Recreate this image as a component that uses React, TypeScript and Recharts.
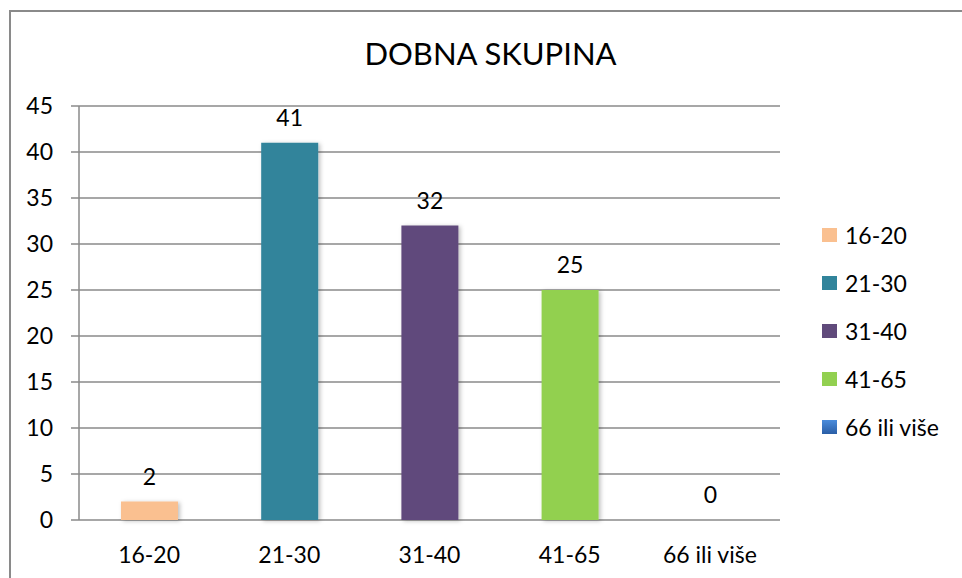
import { BarChart, Bar, XAxis, YAxis, CartesianGrid, Cell, LabelList } from 'recharts';

const categories = ['16-20', '21-30', '31-40', '41-65', '66 ili više'];
const counts = [2, 41, 32, 25, 0];
const colors = ['#FAC090', '#31849B', '#604A7B', '#92D050', '#3F7BC6'];
const yTicks = [0, 5, 10, 15, 20, 25, 30, 35, 40, 45];
const edgeTicks = [0, 1, 2, 3, 4, 5];

const data = categories.map((name, i) => ({ name, value: counts[i] }));

const FONT = 'Lato, "Open Sans", sans-serif';
const GRAY = '#8a8a8a';

export default function App() {
  return (
    <div
      style={{
        position: 'absolute',
        left: 0,
        top: 0,
        width: 962,
        height: 578,
        overflow: 'hidden',
        background: '#fff',
        fontFamily: FONT,
      }}
    >
      <div
        style={{
          position: 'absolute',
          left: 9,
          top: 10,
          width: 1000,
          height: 700,
          border: `2px solid ${GRAY}`,
        }}
      />
      <div
        style={{
          position: 'absolute',
          left: 0,
          width: 981,
          top: 35,
          textAlign: 'center',
          fontSize: 31,
          color: '#000',
          lineHeight: '36px',
        }}
      >
        DOBNA SKUPINA
      </div>

      <div style={{ position: 'absolute', left: 0, top: 0 }}>
        <BarChart
          width={962}
          height={578}
          data={data}
          margin={{ top: 106, right: 182, left: 0, bottom: 0 }}
        >
          <defs>
            <filter id="barShadow" x="-20%" y="-20%" width="150%" height="150%">
              <feDropShadow dx="2" dy="1" stdDeviation="2" floodColor="#000" floodOpacity="0.25" />
            </filter>
          </defs>
          <CartesianGrid vertical={false} stroke={GRAY} strokeWidth={1.5} />
          <XAxis
            xAxisId="edges"
            type="number"
            domain={[0, 5]}
            ticks={edgeTicks}
            allowDataOverflow
            height={0}
            tick={false}
            tickSize={8}
            stroke={GRAY}
            strokeWidth={1.5}
          />
          <XAxis
            xAxisId="cat"
            dataKey="name"
            height={58}
            axisLine={false}
            tickLine={false}
            tickMargin={21}
            tick={{ fill: '#000', fontSize: 23, fontFamily: FONT }}
            interval={0}
          />
          <YAxis
            domain={[0, 45]}
            ticks={yTicks}
            width={79}
            tickSize={8}
            tickMargin={18}
            stroke={GRAY}
            strokeWidth={1.5}
            tick={{ fill: '#000', fontSize: 23, fontFamily: FONT }}
            interval={0}
          />
          <Bar
            dataKey="value"
            xAxisId="cat"
            barSize={57}
            minPointSize={0.1}
            filter="url(#barShadow)"
            isAnimationActive={false}
          >
            {data.map((d, i) => (
              <Cell key={d.name} fill={colors[i]} />
            ))}
            <LabelList
              dataKey="value"
              position="top"
              offset={17}
              fill="#000"
              fontSize={23}
              fontFamily={FONT}
            />
          </Bar>
        </BarChart>
      </div>

      <div style={{ position: 'absolute', left: 822, top: 211 }}>
        {categories.map((name, i) => (
          <div
            key={name}
            style={{ display: 'flex', alignItems: 'center', height: 48, fontSize: 23 }}
          >
            <span
              style={{
                display: 'inline-block',
                width: 15,
                height: 14,
                marginRight: 8,
                background:
                  i === 4 ? 'linear-gradient(#4A8CDC, #2A5EA6)' : colors[i],
              }}
            />
            <span>{name}</span>
          </div>
        ))}
      </div>
    </div>
  );
}
